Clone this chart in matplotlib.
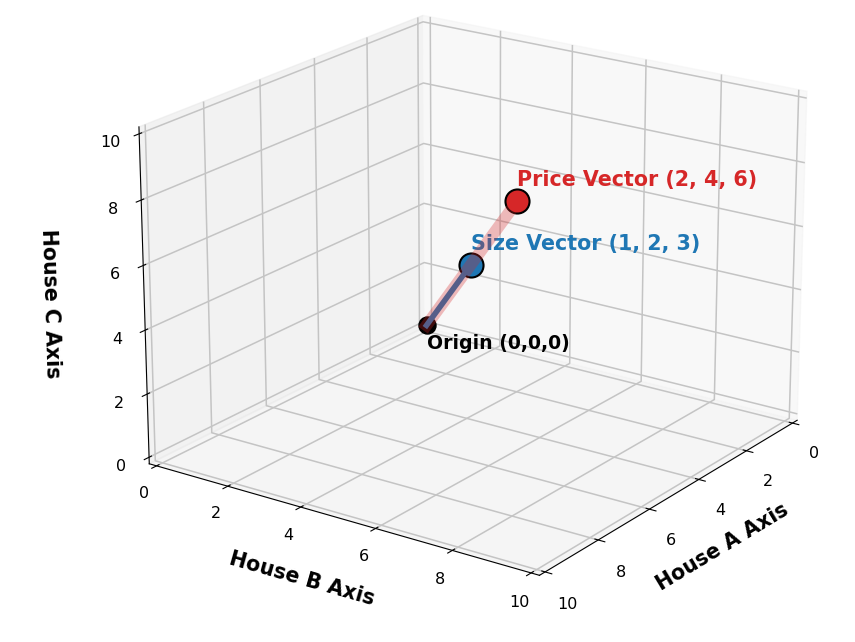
import matplotlib
matplotlib.use('Agg')
import matplotlib.pyplot as plt

# old style padding around the 3d limits
plt.rcParams['axes3d.automargin'] = True
plt.rcParams['grid.color'] = '#c4c4c4'
plt.rcParams['grid.linewidth'] = 1.1

# vectors
origin = [0, 0, 0]
size_vec = [1, 2, 3]
price_vec = [2, 4, 6]
axis_ticks = [0, 2, 4, 6, 8, 10]

fig = plt.figure(figsize=(8.55, 6.42), dpi=100)
ax = fig.add_axes([-0.0245, -0.0197, 1.143, 1.143], projection='3d')
ax.computed_zorder = False

ax.scatter(*origin, s=150, color='black', edgecolor='black', depthshade=False, zorder=2)
ax.scatter(*size_vec, s=300, color='#1f77b4', edgecolor='black', linewidth=1.5, depthshade=False, zorder=2)
ax.scatter(*price_vec, s=300, color='#d62728', edgecolor='black', linewidth=1.5, depthshade=False, zorder=2)

ax.text(price_vec[0], price_vec[1], price_vec[2] + 0.5, 'Price Vector (2, 4, 6)',
        color='#d62728', fontsize=14.9, fontweight='bold', zorder=3)
ax.text(size_vec[0], size_vec[1], size_vec[2] + 0.5, 'Size Vector (1, 2, 3)',
        color='#1f77b4', fontsize=14.9, fontweight='bold', zorder=3)
ax.text(origin[0], origin[1], origin[2] - 0.8, 'Origin (0,0,0)',
        color='black', fontsize=13.6, fontweight='bold', zorder=3)

# size vector first, wide price vector laid over it
ax.plot([origin[0], size_vec[0]], [origin[1], size_vec[1]], [origin[2], size_vec[2]],
        color='#1f77b4', lw=4, zorder=4)
ax.plot([origin[0], price_vec[0]], [origin[1], price_vec[1]], [origin[2], price_vec[2]],
        color='#d62728', lw=8.5, alpha=0.3, zorder=5)

ax.set_xlim(0, 10)
ax.set_ylim(0, 10)
ax.set_zlim(0, 10)
ax.set_xticks(axis_ticks)
ax.set_yticks(axis_ticks)
ax.set_zticks(axis_ticks)
ax.tick_params(labelsize=11.5)
ax.tick_params(axis='x', pad=7)
ax.set_xlabel('House A Axis', fontsize=14.8, fontweight='bold', labelpad=12)
ax.set_ylabel('House B Axis', fontsize=14.8, fontweight='bold', labelpad=13)
ax.set_zlabel('House C Axis', fontsize=14.8, fontweight='bold', labelpad=17)
ax.view_init(elev=20, azim=35)

fig.savefig('out.png', dpi=100)
